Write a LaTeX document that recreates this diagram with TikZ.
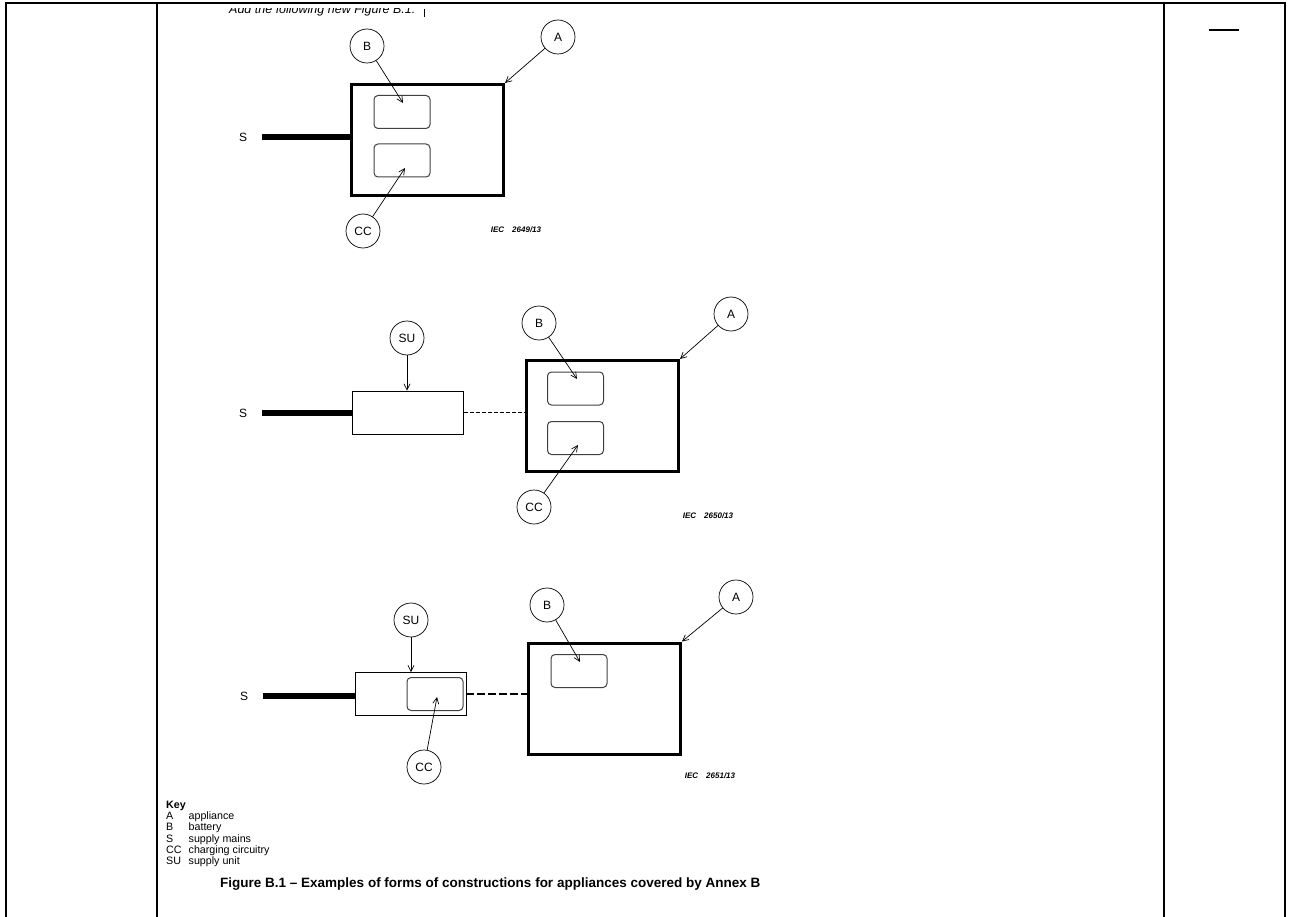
\documentclass[tikz,border=0pt]{standalone}
\usepackage{fontspec}
\setmainfont{Liberation Sans}
\usetikzlibrary{arrows.meta,positioning}

\begin{document}
\begin{tikzpicture}[x=1pt,y=-1pt,every node/.style={font=\fontsize{12}{14}\selectfont},
app/.style={draw,line width=3pt,minimum width=152pt,minimum height=111pt,inner sep=0pt},
cell/.style={draw=black!75,line width=1pt,rounded corners=4pt,minimum width=56pt,
minimum height=33pt,inner sep=0pt},
unit/.style={draw,line width=.8pt,minimum width=111pt,minimum height=43pt,inner sep=0pt},
tag/.style={draw,circle,line width=.7pt,minimum size=34pt,inner sep=0pt},
arr/.style={-{Straight Barb[length=6pt,width=6pt]},line width=.7pt},
mains/.style={line width=5.5pt},
link/.style={line width=1.7pt,dash pattern=on 4pt off 2pt},
iec/.style={font=\fontsize{8}{9}\selectfont\bfseries\itshape},
rule/.style={line width=2.6pt}]
\useasboundingbox (0,0) rectangle (1289,917);
% table frame
\draw[rule] (6,917) -- (6,3) -- (1285,3) -- (1285,917);
\draw[rule] (157,3) -- (157,917);
\draw[rule] (1164,3) -- (1164,917);
\draw[line width=1.3pt] (1209,30) -- (1239,30);
\begin{scope}
\clip (160,9) rectangle (1160,30);
\node[anchor=base west,inner sep=0pt,font=\fontsize{12.5}{15}\selectfont\itshape] (head) at (229,14) {Add the following new Figure B.1:};
\end{scope}
\draw[line width=.7pt] (424,9) -- (424,17);

% first construction
\node[app] (A1) at (427.5,140) {};
\node[cell] (bat1) at (402,112) {};
\node[cell] (chg1) at (402,160.5) {};
\node[tag] (tA1) at (558,37) {A};
\node[tag] (tB1) at (367,46) {B};
\node[tag] (tCC1) at (363,231) {CC};
\node (S1) at (243,137) {S};
\node[iec] (iec1) at (516,230) {IEC\hspace{8pt}2649/13};
\draw[mains] ([xshift=11pt]S1.east) -- (S1 -| A1.west);
\draw[arr] (tA1) -- (A1.north east);
\draw[arr] (tB1) -- ([xshift=1pt,yshift=9pt]bat1.center);
\draw[arr] (tCC1) -- ([xshift=3pt,yshift=-7.5pt]chg1.center);

% second construction
\node[app] (A2) at (602.5,416) {};
\node[cell] (bat2) at (575.5,388.5) {};
\node[cell] (chg2) at (575.5,438) {};
\node[unit] (su2) at (408,412.5) {};
\node[tag] (tA2) at (731,314) {A};
\node[tag] (tB2) at (539,323) {B};
\node[tag] (tSU2) at (407,338) {SU};
\node[tag] (tCC2) at (534,507) {CC};
\node (S2) at (243,413) {S};
\node[iec] (iec2) at (708,516) {IEC\hspace{8pt}2650/13};
\draw[mains] ([xshift=11pt]S2.east) -- (S2 -| su2.west);
\draw[link] (su2.east) -- (su2.east -| A2.west);
\draw[arr] (tA2) -- (A2.north east);
\draw[arr] (tSU2) -- (tSU2 |- su2.north);
\draw[arr] (tB2) -- ([xshift=1.5pt,yshift=9.5pt]bat2.center);
\draw[arr] (tCC2) -- ([xshift=2.5pt,yshift=-7pt]chg2.center);

% third construction
\node[app] (A3) at (604.5,698.5) {};
\node[cell] (bat3) at (579,671) {};
\node[unit] (su3) at (410.5,694) {};
\node[cell] (chg3) at (435,694) {};
\node[tag] (tA3) at (736,597) {A};
\node[tag] (tB3) at (547,605) {B};
\node[tag] (tSU3) at (411,620) {SU};
\node[tag] (tCC3) at (424,767) {CC};
\node (S3) at (244,696) {S};
\node[iec] (iec3) at (710,776) {IEC\hspace{8pt}2651/13};
\draw[mains] ([xshift=11pt]S3.east) -- (S3 -| su3.west);
\draw[link,dash pattern=on 8pt off 3pt] (su3.east) -- (su3.east -| A3.west);
\draw[arr] (tA3) -- (A3.north east);
\draw[arr] (tSU3) -- (tSU3 |- su3.north);
\draw[arr] (tB3) -- ([xshift=1pt,yshift=9pt]bat3.center);
\draw[arr] (tCC3) -- ([xshift=2pt,yshift=-3pt]chg3.center);

% key and caption
\node[anchor=north west,inner sep=0pt,font=\fontsize{10.7}{11.3}\selectfont] (key) at (166,800)
{\begin{tabular}{@{}l@{\hspace{7pt}}l@{}}
\multicolumn{2}{@{}l}{\textbf{Key}}\\
A & appliance\\
B & battery\\
S & supply mains\\
CC & charging circuitry\\
SU & supply unit
\end{tabular}};
\node[anchor=west,inner sep=0pt,font=\fontsize{13.5}{15}\selectfont\bfseries] (cap) at (220,884)
{Figure B.1 -- Examples of forms of constructions for appliances covered by Annex B};
\end{tikzpicture}
\end{document}
